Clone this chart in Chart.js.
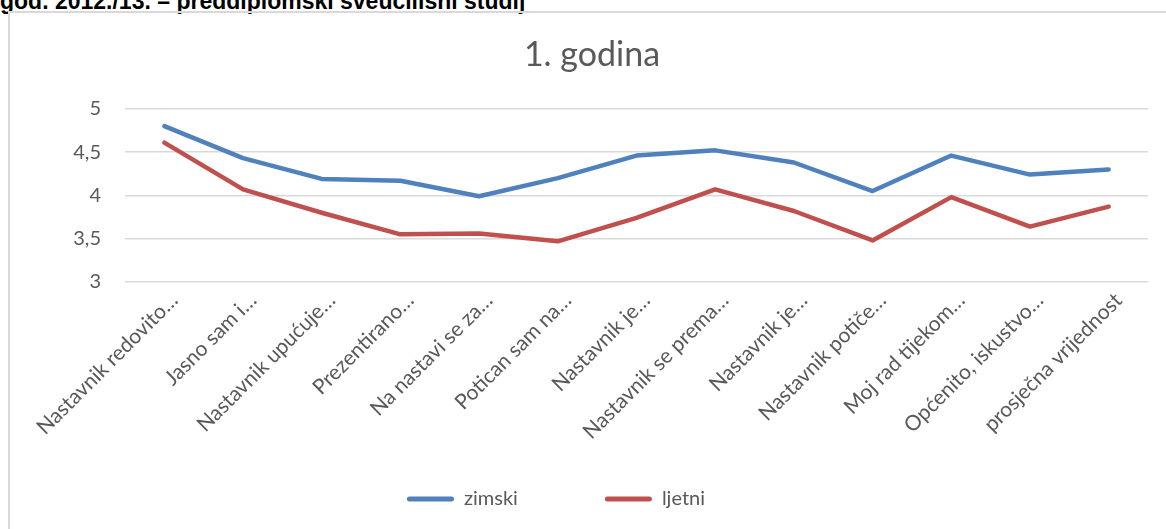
<!DOCTYPE html>
<html>
<head>
<meta charset="utf-8">
<script src="https://cdn.jsdelivr.net/npm/chart.js@4/dist/chart.umd.min.js"></script>
<style>
  html, body { margin: 0; padding: 0; background: #fff; overflow: hidden; }
  body { width: 1166px; height: 529px; position: relative; }
  #heading {
    position: absolute; left: 0; top: -10px; white-space: nowrap;
    font: bold 23px/23px "Liberation Sans", Arial, sans-serif; color: #000;
  }
  #frame {
    position: absolute; left: 8px; top: 11px; width: 1170px; height: 530px;
    border-left: 2px solid #d9d9d9; border-top: 2px solid #d9d9d9;
  }
  #wrap { position: absolute; left: 10px; top: 13px; width: 1156px; height: 516px; }
</style>
</head>
<body>
<div id="heading">god. 2012./13. – preddiplomski sveučilišni studij</div>
<div id="frame"></div>
<div id="wrap"><canvas id="chart"></canvas></div>
<script>
// pitanja (skraćeno kao u izvorniku)
const categories = [
    "Nastavnik redovito…",
    "Jasno sam i…",
    "Nastavnik upućuje…",
    "Prezentirano…",
    "Na nastavi se za…",
    "Potican sam na…",
    "Nastavnik je…",
    "Nastavnik se prema…",
    "Nastavnik je…",
    "Nastavnik potiče…",
    "Moj rad tijekom…",
    "Općenito, iskustvo…",
    "prosječna vrijednost"
];

const zimski = [4.80, 4.43, 4.19, 4.17, 3.99, 4.20, 4.46, 4.52, 4.38, 4.05, 4.46, 4.24, 4.30];
const ljetni = [4.61, 4.07, 3.80, 3.55, 3.56, 3.47, 3.74, 4.07, 3.82, 3.48, 3.98, 3.64, 3.87];

const yTicks = [3, 3.5, 4, 4.5, 5];

const textColor = '#595959';
const fontFamily = 'Lato, "Open Sans", sans-serif';

// Excel ne centrira naslov i legendu točno kao Chart.js, pa ih malo pomaknemo
// (legenda je klipana na svoj okvir, zato se gornji rub diže za padding)
const boxShift = {
    id: 'boxShift',
    afterLayout(chart) {
        const t = chart.titleBlock;
        if (t) { t.left += 13; t.right += 13; }
        const lg = chart.legend;
        if (!lg) return;
        const pad = lg.options.labels.padding;
        lg.left -= 23; lg.right -= 23;
        lg.top -= pad;
    }
};

const ctx = document.getElementById('chart');
new Chart(ctx, {
    type: 'line',
    data: {
        labels: categories,
        datasets: [
            { label: 'zimski', data: zimski, borderColor: '#4f81bd', backgroundColor: '#4f81bd' },
            { label: 'ljetni', data: ljetni, borderColor: '#c0504d', backgroundColor: '#c0504d' }
        ]
    },
    options: {
        responsive: true,
        maintainAspectRatio: false,
        animation: false,
        layout: { padding: { left: 0, right: 18, top: 0, bottom: 0 } },
        elements: {
            line: { borderWidth: 4.5, tension: 0, borderCapStyle: 'round', borderJoinStyle: 'round', fill: false },
            point: { radius: 0, hoverRadius: 0 }
        },
        plugins: {
            title: {
                display: true,
                text: '1. godina',
                color: textColor,
                font: { family: fontFamily, size: 34, weight: 'normal' },
                padding: { top: 22, bottom: 33 }
            },
            legend: {
                position: 'bottom',
                maxHeight: 40,
                labels: {
                    color: textColor,
                    font: { family: fontFamily, size: 20 },
                    boxWidth: 47,
                    boxHeight: 5,
                    padding: 87,
                    useBorderRadius: true,
                    borderRadius: 2.5,
                    generateLabels(chart) {
                        const items = Chart.defaults.plugins.legend.labels.generateLabels(chart);
                        items.forEach(it => { it.lineWidth = 0; });
                        return items;
                    }
                }
            },
            tooltip: { enabled: false }
        },
        scales: {
            x: {
                offset: true,
                grid: { display: false, drawTicks: false },
                border: { display: false },
                ticks: {
                    color: textColor,
                    font: { family: fontFamily, size: 21 },
                    autoSkip: false,
                    minRotation: 45,
                    maxRotation: 45,
                    padding: 6,
                    labelOffset: 10
                },
                afterFit(scale) { scale.height = 207; }
            },
            y: {
                min: 3,
                max: 5,
                afterBuildTicks(scale) { scale.ticks = yTicks.map(v => ({ value: v })); },
                grid: { color: '#d9d9d9', lineWidth: 1.5, drawTicks: false },
                border: { display: false },
                ticks: {
                    color: textColor,
                    font: { family: fontFamily, size: 20 },
                    padding: 24,
                    callback: v => String(v).replace('.', ',')
                },
                afterFit(scale) { scale.width = 115; }
            }
        }
    },
    plugins: [boxShift]
});
</script>
</body>
</html>
